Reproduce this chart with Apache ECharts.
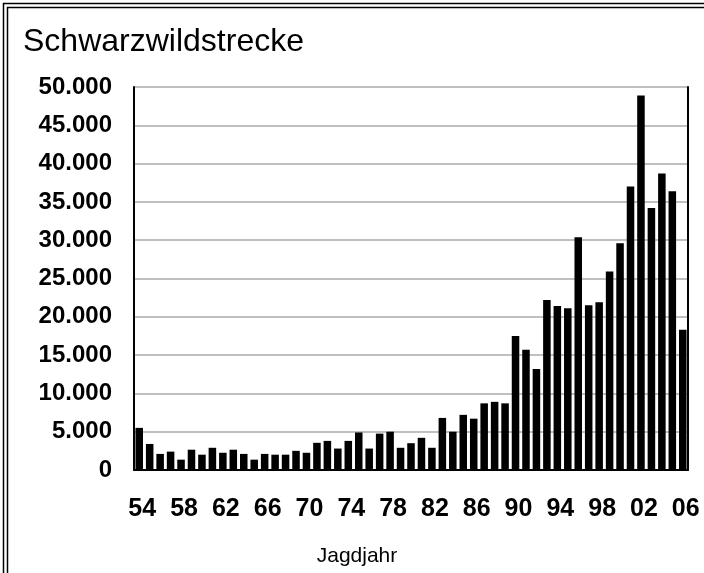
<!DOCTYPE html>
<html>
<head>
<meta charset="utf-8">
<script src="https://cdn.jsdelivr.net/npm/echarts@6/dist/echarts.min.js"></script>
<style>
  html, body { margin: 0; padding: 0; background: #fff; }
  #chart { width: 704px; height: 573px; }
</style>
</head>
<body>
<div id="chart"></div>
<script>
// Jagdjahre 1954 - 2006, shown as two digits
var years = ['54', '55', '56', '57', '58', '59', '60', '61', '62', '63',
  '64', '65', '66', '67', '68', '69', '70', '71', '72', '73',
  '74', '75', '76', '77', '78', '79', '80', '81', '82', '83',
  '84', '85', '86', '87', '88', '89', '90', '91', '92', '93',
  '94', '95', '96', '97', '98', '99', '00', '01', '02', '03',
  '04', '05', '06']

// Schwarzwildstrecke per Jagdjahr
var strecke = [5500, 3400, 2100, 2400, 1350, 2650, 2000, 2900, 2250, 2650,
  2100, 1350, 2100, 2000, 2000, 2500, 2250, 3550, 3800, 2800,
  3800, 4900, 2800, 4750, 5000, 2900, 3500, 4200, 2900, 6800,
  5000, 7200, 6700, 8700, 8900, 8700, 17500, 15700, 13200, 22200,
  21400, 21100, 30400, 21500, 21900, 25900, 29600, 37000, 48900, 34200,
  38700, 36400, 18300]

var yMax = 50000
var yStep = 5000

function deNumber(v) {
  return String(v).replace(/\B(?=(\d{3})+(?!\d))/g, '.')
}

var myChart = echarts.init(document.getElementById('chart'))
var font = 'Liberation Sans, Arial, sans-serif'
var option = {
  animation: false,
  backgroundColor: '#fff',
  textStyle: { fontFamily: font },
  title: {
    text: 'Schwarzwildstrecke',
    left: 18,
    top: 21,
    textStyle: { fontFamily: font, fontSize: 32, fontWeight: 'normal', color: '#000' }
  },
  graphic: [
    { type: 'rect', shape: { x: 3.5, y: 3.5, width: 760, height: 640 }, style: { fill: null, stroke: '#000', lineWidth: 1.5 } },
    { type: 'rect', shape: { x: 7.5, y: 7.5, width: 760, height: 640 }, style: { fill: null, stroke: '#000', lineWidth: 1.5 } }
  ],
  grid: {
    left: 134,
    right: 16,
    top: 87,
    bottom: 103,
    outerBoundsMode: 'none'
  },
  xAxis: {
    type: 'category',
    data: years,
    name: 'Jagdjahr',
    nameLocation: 'middle',
    nameGap: 76,
    nameTextStyle: { fontFamily: font, fontSize: 21, color: '#000', padding: [0, 108, 0, 0] },
    axisLine: { lineStyle: { color: '#000', width: 2 } },
    axisTick: { show: false },
    axisLabel: {
      interval: 3,
      margin: 27,
      padding: [0, 0, 0, 6],
      fontFamily: font,
      fontSize: 25,
      fontWeight: 'bold',
      color: '#000'
    }
  },
  yAxis: [
    {
      type: 'value',
      min: 0,
      max: yMax,
      interval: yStep,
      axisLine: { show: true, lineStyle: { color: '#000', width: 2 } },
      axisTick: { show: false },
      splitLine: { lineStyle: { color: '#c0c0c0', width: 2 } },
      axisLabel: {
        margin: 22,
        fontFamily: font,
        fontSize: 24,
        fontWeight: 'bold',
        color: '#000',
        formatter: deNumber
      }
    },
    {
      type: 'value',
      position: 'right',
      min: 0,
      max: yMax,
      interval: yStep,
      axisLine: { show: true, lineStyle: { color: '#000', width: 2 } },
      axisTick: { show: false },
      axisLabel: { show: false },
      splitLine: { show: false }
    }
  ],
  series: [
    {
      name: 'Schwarzwildstrecke',
      type: 'bar',
      data: strecke,
      barCategoryGap: '28%',
      itemStyle: { color: '#000' }
    }
  ]
}
myChart.setOption(option)
</script>
</body>
</html>
